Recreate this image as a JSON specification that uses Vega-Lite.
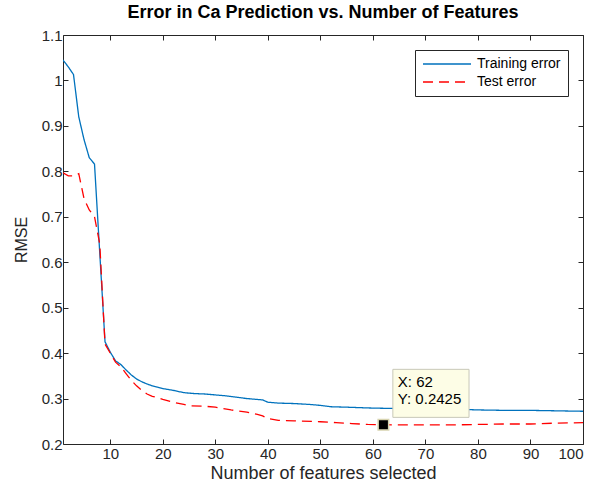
{
  "$schema": "https://vega.github.io/schema/vega-lite/v6.json",
  "width": 520,
  "height": 409,
  "autosize": {"type": "none"},
  "padding": {"left": 63, "top": 35, "right": 14, "bottom": 45},
  "background": "white",
  "config": {
    "font": "Liberation Sans",
    "view": {"stroke": "#262626", "strokeWidth": 1},
    "axis": {"domain": false, "grid": false, "tickColor": "#262626", "labelColor": "#262626", "titleColor": "#262626", "labelFont": "Liberation Sans", "titleFont": "Liberation Sans", "labelFontSize": 15, "titleFontSize": 18, "titleFontWeight": "normal", "tickSize": -5}
  },
  "title": {"text": "Error in Ca Prediction vs. Number of Features", "fontSize": 18, "fontWeight": "bold", "font": "Liberation Sans", "color": "#000000", "offset": 6, "anchor": "middle"},
  "datasets": {
    "lines": [
      {"n": 1, "rmse": 1.045, "series": "Training error"},
      {"n": 2, "rmse": 1.03, "series": "Training error"},
      {"n": 3, "rmse": 1.013, "series": "Training error"},
      {"n": 4, "rmse": 0.92, "series": "Training error"},
      {"n": 5, "rmse": 0.87, "series": "Training error"},
      {"n": 6, "rmse": 0.83, "series": "Training error"},
      {"n": 7, "rmse": 0.816, "series": "Training error"},
      {"n": 8, "rmse": 0.62, "series": "Training error"},
      {"n": 9, "rmse": 0.425, "series": "Training error"},
      {"n": 10, "rmse": 0.402, "series": "Training error"},
      {"n": 11, "rmse": 0.383, "series": "Training error"},
      {"n": 12, "rmse": 0.375, "series": "Training error"},
      {"n": 13, "rmse": 0.363, "series": "Training error"},
      {"n": 14, "rmse": 0.352, "series": "Training error"},
      {"n": 15, "rmse": 0.343, "series": "Training error"},
      {"n": 16, "rmse": 0.337, "series": "Training error"},
      {"n": 17, "rmse": 0.332, "series": "Training error"},
      {"n": 18, "rmse": 0.328, "series": "Training error"},
      {"n": 19, "rmse": 0.325, "series": "Training error"},
      {"n": 20, "rmse": 0.322, "series": "Training error"},
      {"n": 22, "rmse": 0.318, "series": "Training error"},
      {"n": 24, "rmse": 0.313, "series": "Training error"},
      {"n": 26, "rmse": 0.311, "series": "Training error"},
      {"n": 28, "rmse": 0.31, "series": "Training error"},
      {"n": 30, "rmse": 0.308, "series": "Training error"},
      {"n": 32, "rmse": 0.306, "series": "Training error"},
      {"n": 34, "rmse": 0.303, "series": "Training error"},
      {"n": 36, "rmse": 0.3, "series": "Training error"},
      {"n": 38, "rmse": 0.298, "series": "Training error"},
      {"n": 39, "rmse": 0.297, "series": "Training error"},
      {"n": 40, "rmse": 0.292, "series": "Training error"},
      {"n": 42, "rmse": 0.29, "series": "Training error"},
      {"n": 45, "rmse": 0.289, "series": "Training error"},
      {"n": 48, "rmse": 0.287, "series": "Training error"},
      {"n": 50, "rmse": 0.285, "series": "Training error"},
      {"n": 52, "rmse": 0.282, "series": "Training error"},
      {"n": 55, "rmse": 0.281, "series": "Training error"},
      {"n": 60, "rmse": 0.279, "series": "Training error"},
      {"n": 65, "rmse": 0.278, "series": "Training error"},
      {"n": 70, "rmse": 0.277, "series": "Training error"},
      {"n": 75, "rmse": 0.277, "series": "Training error"},
      {"n": 80, "rmse": 0.275, "series": "Training error"},
      {"n": 85, "rmse": 0.274, "series": "Training error"},
      {"n": 90, "rmse": 0.274, "series": "Training error"},
      {"n": 95, "rmse": 0.273, "series": "Training error"},
      {"n": 100, "rmse": 0.272, "series": "Training error"},
      {"n": 1, "rmse": 0.797, "series": "Test error"},
      {"n": 2, "rmse": 0.79, "series": "Test error"},
      {"n": 3, "rmse": 0.79, "series": "Test error"},
      {"n": 4, "rmse": 0.795, "series": "Test error"},
      {"n": 5, "rmse": 0.74, "series": "Test error"},
      {"n": 6, "rmse": 0.715, "series": "Test error"},
      {"n": 7, "rmse": 0.7, "series": "Test error"},
      {"n": 8, "rmse": 0.64, "series": "Test error"},
      {"n": 9, "rmse": 0.42, "series": "Test error"},
      {"n": 10, "rmse": 0.4, "series": "Test error"},
      {"n": 11, "rmse": 0.38, "series": "Test error"},
      {"n": 12, "rmse": 0.37, "series": "Test error"},
      {"n": 13, "rmse": 0.355, "series": "Test error"},
      {"n": 14, "rmse": 0.34, "series": "Test error"},
      {"n": 15, "rmse": 0.328, "series": "Test error"},
      {"n": 16, "rmse": 0.318, "series": "Test error"},
      {"n": 17, "rmse": 0.31, "series": "Test error"},
      {"n": 18, "rmse": 0.305, "series": "Test error"},
      {"n": 19, "rmse": 0.302, "series": "Test error"},
      {"n": 20, "rmse": 0.298, "series": "Test error"},
      {"n": 22, "rmse": 0.292, "series": "Test error"},
      {"n": 24, "rmse": 0.287, "series": "Test error"},
      {"n": 25, "rmse": 0.284, "series": "Test error"},
      {"n": 28, "rmse": 0.283, "series": "Test error"},
      {"n": 30, "rmse": 0.281, "series": "Test error"},
      {"n": 33, "rmse": 0.275, "series": "Test error"},
      {"n": 36, "rmse": 0.27, "series": "Test error"},
      {"n": 38, "rmse": 0.265, "series": "Test error"},
      {"n": 39, "rmse": 0.262, "series": "Test error"},
      {"n": 40, "rmse": 0.256, "series": "Test error"},
      {"n": 42, "rmse": 0.252, "series": "Test error"},
      {"n": 45, "rmse": 0.251, "series": "Test error"},
      {"n": 50, "rmse": 0.249, "series": "Test error"},
      {"n": 53, "rmse": 0.247, "series": "Test error"},
      {"n": 56, "rmse": 0.245, "series": "Test error"},
      {"n": 59, "rmse": 0.243, "series": "Test error"},
      {"n": 62, "rmse": 0.2425, "series": "Test error"},
      {"n": 65, "rmse": 0.242, "series": "Test error"},
      {"n": 70, "rmse": 0.242, "series": "Test error"},
      {"n": 75, "rmse": 0.242, "series": "Test error"},
      {"n": 80, "rmse": 0.243, "series": "Test error"},
      {"n": 85, "rmse": 0.244, "series": "Test error"},
      {"n": 90, "rmse": 0.244, "series": "Test error"},
      {"n": 95, "rmse": 0.246, "series": "Test error"},
      {"n": 100, "rmse": 0.247, "series": "Test error"}
    ],
    "tip": [
      {"n": 62, "rmse": 0.2425, "x1": 63.8, "x2": 78.3, "y1": 0.2586, "y2": 0.3643, "line1": "X: 62", "line2": "Y: 0.2425", "ty1": 0.3375, "ty2": 0.2985}
    ]
  },
  "layer": [
    {
      "data": {"name": "lines"},
      "mark": {"type": "line", "strokeWidth": 1.3, "clip": true},
      "encoding": {
        "x": {"field": "n", "type": "quantitative", "scale": {"domain": [1, 100], "nice": false, "zero": false},
              "axis": {"orient": "bottom", "values": [10, 20, 30, 40, 50, 60, 70, 80, 90, 100], "title": "Number of features selected", "labelPadding": 7, "titlePadding": 3}},
        "y": {"field": "rmse", "type": "quantitative", "scale": {"domain": [0.2, 1.1], "nice": false, "zero": false},
              "axis": {"orient": "left", "values": [0.2, 0.3, 0.4, 0.5, 0.6, 0.7, 0.8, 0.9, 1.0, 1.1], "format": ".2~f", "title": "RMSE", "titleFontSize": 16, "labelPadding": 6, "titlePadding": 12}},
        "color": {"field": "series", "type": "nominal",
                  "scale": {"domain": ["Training error", "Test error"], "range": ["#0072BD", "#FF0000"]},
                  "legend": {"title": null, "orient": "top-right", "offset": 15, "strokeColor": "#262626", "fillColor": "white", "padding": 7, "symbolType": "M-1,0H7", "symbolSize": 144, "symbolStrokeWidth": 1.3, "labelOffset": 41, "labelFontSize": 14, "labelFont": "Liberation Sans", "labelColor": "#000000", "rowPadding": 4}},
        "strokeDash": {"field": "series", "type": "nominal",
                  "scale": {"domain": ["Training error", "Test error"], "range": [[1, 0], [10, 6]]}, "legend": {"title": null}}
      }
    },
    {
      "data": {"name": "tip"},
      "mark": {"type": "rect", "fill": "#fdfde6", "stroke": "#c8c8b8", "strokeWidth": 1},
      "encoding": {
        "x": {"field": "x1", "type": "quantitative", "axis": null},
        "x2": {"field": "x2"},
        "y": {"field": "y1", "type": "quantitative", "axis": null},
        "y2": {"field": "y2"}
      }
    },
    {
      "data": {"name": "tip"},
      "mark": {"type": "text", "align": "left", "baseline": "middle", "fontSize": 15, "font": "Liberation Sans", "color": "#000000", "dx": 5},
      "encoding": {
        "x": {"field": "x1", "type": "quantitative", "axis": null},
        "y": {"field": "ty1", "type": "quantitative", "axis": null},
        "text": {"field": "line1"}
      }
    },
    {
      "data": {"name": "tip"},
      "mark": {"type": "text", "align": "left", "baseline": "middle", "fontSize": 15, "font": "Liberation Sans", "color": "#000000", "dx": 5},
      "encoding": {
        "x": {"field": "x1", "type": "quantitative", "axis": null},
        "y": {"field": "ty2", "type": "quantitative", "axis": null},
        "text": {"field": "line2"}
      }
    },
    {
      "data": {"name": "tip"},
      "mark": {"type": "point", "shape": "square", "filled": true, "fill": "#000000", "stroke": "#d8d4b0", "strokeWidth": 1.5, "size": 110, "opacity": 1},
      "encoding": {
        "x": {"field": "n", "type": "quantitative",
              "axis": {"orient": "top", "values": [10, 20, 30, 40, 50, 60, 70, 80, 90, 100], "labels": false, "title": null}},
        "y": {"field": "rmse", "type": "quantitative",
              "axis": {"orient": "right", "values": [0.2, 0.3, 0.4, 0.5, 0.6, 0.7, 0.8, 0.9, 1.0, 1.1], "labels": false, "title": null}}
      }
    }
  ],
  "resolve": {"axis": {"x": "independent", "y": "independent"}}
}
